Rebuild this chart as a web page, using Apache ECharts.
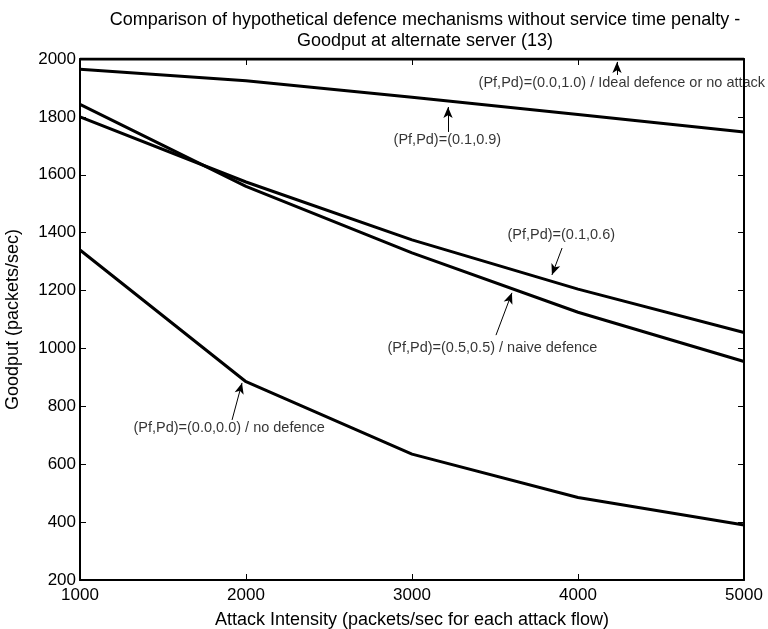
<!DOCTYPE html>
<html><head><meta charset="utf-8">
<script src="https://cdn.jsdelivr.net/npm/echarts@6/dist/echarts.min.js"></script>
<style>html,body{margin:0;padding:0;background:#fff}#c{width:768px;height:629px}</style>
</head><body><div id="c"></div>
<script>
const categories = [1000, 2000, 3000, 4000, 5000];
const ideal = [2000, 2000, 2000, 2000, 2000];
const pf01pd09 = [1965, 1925, 1868, 1808, 1748];
const pf01pd06 = [1800, 1575, 1375, 1205, 1055];
const pf05pd05 = [1843, 1560, 1330, 1125, 955];
const pf00pd00 = [1340, 885, 635, 485, 390];
const yTicks = [200, 400, 600, 800, 1000, 1200, 1400, 1600, 1800, 2000];

// annotations: [text, textX, textY, arrowFromX, arrowFromY, arrowToX, arrowToY]
const notes = [
  ['(Pf,Pd)=(0.0,1.0) / Ideal defence or no attack', 3398, 1917, 4235, 1945, 4235, 1990],
  ['(Pf,Pd)=(0.1,0.9)', 2886, 1720, 3217, 1748, 3217, 1834],
  ['(Pf,Pd)=(0.1,0.6)', 3572, 1392, 3904, 1347, 3843, 1254],
  ['(Pf,Pd)=(0.5,0.5) / naive defence', 2849, 1002, 3506, 1046, 3602, 1192],
  ['(Pf,Pd)=(0.0,0.0) / no defence', 1319, 725, 1916, 753, 1976, 881]
];

const FONT = 'Liberation Sans, Arial, sans-serif';
const chart = echarts.init(document.getElementById('c'), null, {renderer: 'canvas'});
const pts = a => categories.map((x, i) => [x, a[i]]);
const lineStyle = {color: '#000', width: 3};
function mk(name, arr, extra) {
  return Object.assign({
    name, type: 'line', data: pts(arr), symbol: 'none', lineStyle, silent: true, z: 3
  }, extra || {});
}
const arrowLines = notes.map(n => [
  {coord: [n[3], n[4]], symbol: 'none'},
  {coord: [n[5], n[6]], symbol: 'arrow', symbolSize: [7, 11]}
]);
const noteData = notes.map(n => ({value: [n[1], n[2]], label: {formatter: n[0]}}));

const axisTick = {inside: true, length: 6, lineStyle: {color: '#000', width: 1}};
const axisLine = {lineStyle: {color: '#000', width: 2}};
chart.setOption({
  animation: false,
  backgroundColor: '#fff',
  title: {
    text: 'Comparison of hypothetical defence mechanisms without service time penalty -\nGoodput at alternate server (13)',
    left: 420, top: 5, textAlign: 'center',
    textStyle: {fontSize: 18, fontWeight: 'normal', color: '#000', fontFamily: FONT, lineHeight: 21}
  },
  grid: {left: 80, right: 24, top: 59, bottom: 49, containLabel: false, outerBoundsMode: 'none'},
  xAxis: [{
    type: 'value', min: 1000, max: 5000, interval: 1000,
    name: 'Attack Intensity (packets/sec for each attack flow)',
    nameLocation: 'middle', nameGap: 31,
    nameTextStyle: {fontSize: 18, color: '#000', fontFamily: FONT},
    axisLine, axisTick,
    axisLabel: {fontSize: 17, color: '#000', fontFamily: FONT, margin: 7, formatter: v => String(v)},
    splitLine: {show: false}
  }, {
    type: 'value', min: 1000, max: 5000, interval: 1000, position: 'top',
    axisLine, axisTick, axisLabel: {show: false}, splitLine: {show: false}
  }],
  yAxis: [{
    type: 'value', min: 200, max: 2000, interval: 200,
    name: 'Goodput (packets/sec)', nameLocation: 'middle', nameGap: 58,
    nameTextStyle: {fontSize: 18, color: '#000', fontFamily: FONT},
    axisLine, axisTick,
    axisLabel: {fontSize: 17, color: '#000', fontFamily: FONT, margin: 4,
      formatter: v => yTicks.includes(v) ? String(v) : ''},
    splitLine: {show: false}
  }, {
    type: 'value', min: 200, max: 2000, interval: 200, position: 'right',
    axisLine, axisTick, axisLabel: {show: false}, splitLine: {show: false}
  }],
  series: [
    mk('(0.0,1.0)', ideal, {
      markLine: {silent: true, symbol: ['none', 'arrow'], animation: false,
        lineStyle: {color: '#000', width: 1, type: 'solid'},
        label: {show: false}, data: arrowLines}
    }),
    mk('(0.1,0.9)', pf01pd09),
    mk('(0.1,0.6)', pf01pd06),
    mk('(0.5,0.5)', pf05pd05),
    mk('(0.0,0.0)', pf00pd00),
    {
      name: 'notes', type: 'scatter', data: noteData, symbolSize: 1, silent: true,
      itemStyle: {color: 'rgba(0,0,0,0)'}, z: 5,
      label: {show: true, position: 'right', distance: 0, color: '#000',
              fontSize: 14.5, fontFamily: FONT}
    }
  ]
});
</script></body></html>
